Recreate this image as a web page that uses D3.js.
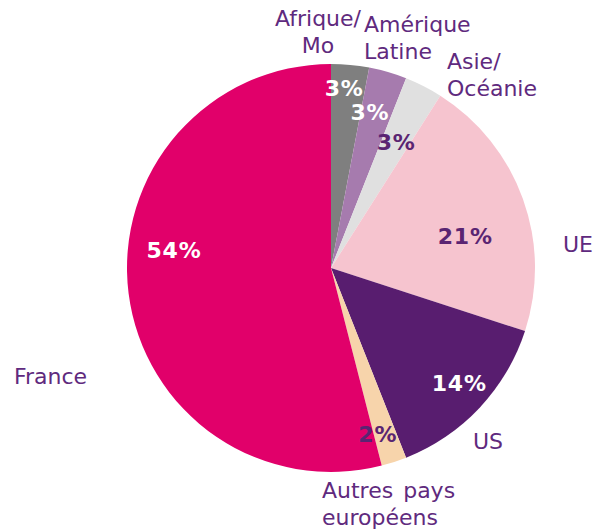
<!DOCTYPE html>
<html>
<head>
<meta charset="utf-8">
<script src="https://cdn.jsdelivr.net/npm/d3@7/dist/d3.min.js"></script>
<style>
  html, body { margin: 0; padding: 0; background: #ffffff; }
  svg { display: block; }
</style>
</head>
<body>
<svg id="chart" width="596" height="532"></svg>
<script>
// Répartition par zone géographique (en %)
const categories = ["Afrique/Mo", "Amérique Latine", "Asie/Océanie", "UE", "US", "Autres pays européens", "France"];
const values = [3, 3, 3, 21, 14, 2, 54];
const labelLines = [["Afrique/", "Mo"], ["Amérique", "Latine"], ["Asie/", "Océanie"], ["UE"], ["US"], ["Autres pays", "européens"], ["France"]];

const sliceColors = ["#7f7f7f", "#a67bae", "#e0e0e0", "#f6c4cf", "#581d6f", "#f7d4ab", "#e1006a"];
const pctColors = ["#ffffff", "#ffffff", "#5a2472", "#5a2472", "#ffffff", "#5a2472", "#ffffff"];
const textPurple = "#5f2a7e";

const W = 596, H = 532;
const cx = 331, cy = 268, R = 204;

// Percentage label placement: radius from centre and angle (degrees, clockwise from 12 o'clock)
const pctPlace = [
  { r: 180, a: 4.2 }, { r: 161, a: 14 }, { r: 142, a: 27.3 },
  { r: 138, a: 76.6 }, { r: 172, a: 131.8 }, { r: 173, a: 164.3 }, { r: 158, a: 276.5 }
];
// Category label placement relative to the pie centre (first baseline) and anchor
const catPlace = [
  { dx: -13, dy: -242, anchor: "middle" },
  { dx: 33, dy: -236.5, anchor: "start" },
  { dx: 116, dy: -199, anchor: "start" },
  { dx: 232, dy: -16, anchor: "start" },
  { dx: 142, dy: 181, anchor: "start" },
  { dx: -9, dy: 230, anchor: "start" },
  { dx: -317, dy: 116, anchor: "start" }
];
const lineHeight = 27;

const svg = d3.select("#chart");
svg.append("rect").attr("width", W).attr("height", H).attr("fill", "#ffffff");

const data = categories.map((c, i) => ({ cat: c, value: values[i], i }));

const pie = d3.pie().value(d => d.value).sort(null);
const arc = d3.arc().innerRadius(0).outerRadius(R);

const g = svg.append("g").attr("transform", `translate(${cx},${cy})`);
const arcs = pie(data);

g.selectAll("path.slice")
  .data(arcs)
  .join("path")
  .attr("class", "slice")
  .attr("d", arc)
  .attr("fill", d => sliceColors[d.data.i]);

// Percentage labels inside the slices
g.selectAll("text.pct")
  .data(arcs)
  .join("text")
  .attr("class", "pct")
  .attr("x", d => { const p = pctPlace[d.data.i]; return p.r * Math.sin(p.a * Math.PI / 180); })
  .attr("y", d => { const p = pctPlace[d.data.i]; return -p.r * Math.cos(p.a * Math.PI / 180); })
  .attr("dy", "0.36em")
  .attr("text-anchor", "middle")
  .attr("font-family", "'DejaVu Sans', Verdana, sans-serif")
  .attr("font-weight", "bold")
  .attr("font-size", 22)
  .attr("letter-spacing", 0.8)
  .attr("fill", d => pctColors[d.data.i])
  .text(d => d3.format(".0f")(d.data.value) + "%");

// Category labels outside the pie
const cat = g.selectAll("text.cat")
  .data(arcs)
  .join("text")
  .attr("class", "cat")
  .attr("text-anchor", d => catPlace[d.data.i].anchor)
  .attr("font-family", "'DejaVu Sans', Verdana, sans-serif")
  .attr("font-size", 22)
  .attr("word-spacing", 3)
  .attr("fill", textPurple);

cat.selectAll("tspan")
  .data(d => labelLines[d.data.i].map((t, k) => ({ t, k, p: catPlace[d.data.i] })))
  .join("tspan")
  .attr("x", d => d.p.dx)
  .attr("y", d => d.p.dy + d.k * lineHeight)
  .text(d => d.t);
</script>
</body>
</html>
